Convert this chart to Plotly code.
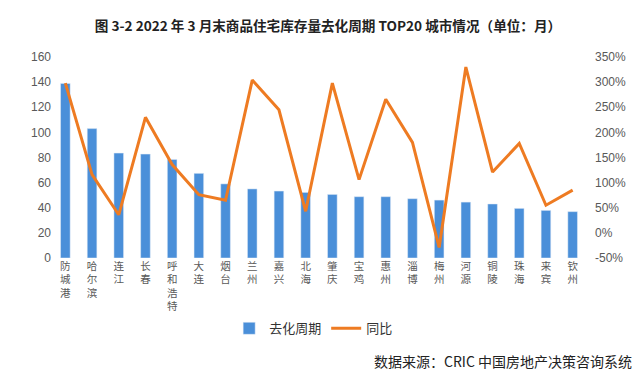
import plotly.graph_objects as go

cities = ["防城港", "哈尔滨", "连江", "长春", "呼和浩特", "大连", "烟台", "兰州", "嘉兴", "北海",
          "肇庆", "宝鸡", "惠州", "淄博", "梅州", "河源", "铜陵", "珠海", "来宾", "钦州"]
cycle_months = [139, 103, 83.5, 82.7, 78.5, 67.4, 59, 55, 53.3, 52.2,
                50.6, 48.8, 48.8, 47.2, 46.1, 44.5, 43, 39.5, 37.9, 36.9]
yoy_pct = [298, 116, 36, 230, 136, 76, 65, 304, 245, 43,
           298, 106, 266, 180, -29, 330, 121, 178, 55, 85]

left_ticks = [0, 20, 40, 60, 80, 100, 120, 140, 160]
right_ticks = [-50, 0, 50, 100, 150, 200, 250, 300, 350]
right_tick_text = [f"{v}%" for v in right_ticks]

labels = ["<br>".join(list(c)) for c in cities]

fig = go.Figure()
fig.add_trace(go.Bar(x=labels, y=cycle_months, name="去化周期",
                     marker=dict(color="#4A8FD9"), yaxis="y"))
fig.add_trace(go.Scatter(x=labels, y=yoy_pct, name="同比", mode="lines",
                         line=dict(color="#EE7B22", width=3), yaxis="y2"))

font_cjk = "Noto Sans CJK SC"
fig.update_layout(
    width=640, height=376,
    margin=dict(l=44, r=62, t=49, b=126),
    paper_bgcolor="white", plot_bgcolor="white",
    bargap=0.64,
    font=dict(family=font_cjk, color="#595959", size=12),
    title=dict(text="<b>图 3-2 2022 年 3 月末商品住宅库存量去化周期 TOP20 城市情况（单位：月）</b>",
               x=0.5, xanchor="center", y=0.952, yanchor="middle",
               font=dict(family=font_cjk, size=13.6, color="#222222")),
    xaxis=dict(showgrid=False, showline=False, ticks="", tickangle=0,
               tickfont=dict(size=10.5, color="#595959"), automargin=False),
    yaxis=dict(range=[0, 160], tickvals=left_ticks, showgrid=False, zeroline=False,
               showline=False, tickfont=dict(family="Liberation Sans", size=12, color="#595959"),
               automargin=False),
    yaxis2=dict(range=[-50, 350], tickvals=right_ticks, ticktext=right_tick_text,
                tickmode="array", overlaying="y",
                side="right", showgrid=False, zeroline=False, showline=False,
                tickfont=dict(family="Liberation Sans", size=12, color="#595959"),
                ticklabelstandoff=8, automargin=False),
    legend=dict(orientation="h", x=0.49, xanchor="center", y=-0.35, yanchor="middle",
                font=dict(size=13, color="#333333"), itemwidth=30,
                traceorder="normal"),
    showlegend=True,
    annotations=[dict(text="数据来源：CRIC 中国房地产决策咨询系统", xref="paper", yref="paper",
                      x=1.09, xanchor="right", y=-0.51, yanchor="middle", showarrow=False,
                      font=dict(family=font_cjk, size=14, color="#222222"))],
)

fig.write_html("out.html")
